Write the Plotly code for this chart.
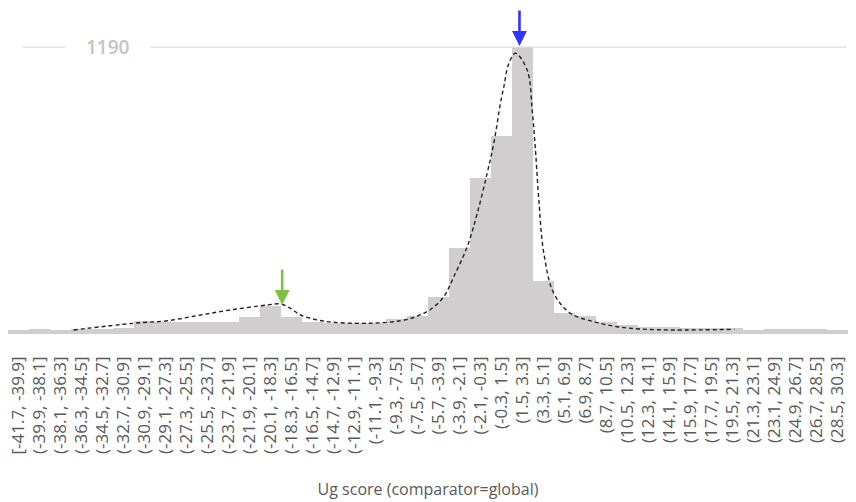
import plotly.graph_objects as go

# ---- data ----
bin_labels = [
    "[-41.7, -39.9]", "(-39.9, -38.1]", "(-38.1, -36.3]", "(-36.3, -34.5]", "(-34.5, -32.7]",
    "(-32.7, -30.9]", "(-30.9, -29.1]", "(-29.1, -27.3]", "(-27.3, -25.5]", "(-25.5, -23.7]",
    "(-23.7, -21.9]", "(-21.9, -20.1]", "(-20.1, -18.3]", "(-18.3, -16.5]", "(-16.5, -14.7]",
    "(-14.7, -12.9]", "(-12.9, -11.1]", "(-11.1, -9.3]", "(-9.3, -7.5]", "(-7.5, -5.7]",
    "(-5.7, -3.9]", "(-3.9, -2.1]", "(-2.1, -0.3]", "(-0.3, 1.5]", "(1.5, 3.3]",
    "(3.3, 5.1]", "(5.1, 6.9]", "(6.9, 8.7]", "(8.7, 10.5]", "(10.5, 12.3]",
    "(12.3, 14.1]", "(14.1, 15.9]", "(15.9, 17.7]", "(17.7, 19.5]", "(19.5, 21.3]",
    "(21.3, 23.1]", "(23.1, 24.9]", "(24.9, 26.7]", "(26.7, 28.5]", "(28.5, 30.3]",
]
bin_start = -41.7
bin_width = 1.8
bin_centers = [round(bin_start + bin_width * (i + 0.5), 2) for i in range(len(bin_labels))]

counts = [
    15, 21, 15, 20, 21, 23, 52, 48, 48, 48,
    48, 70, 116, 70, 48, 46, 46, 46, 62, 75,
    155, 357, 647, 820, 1190, 218, 89, 73, 48, 37,
    31, 27, 25, 25, 25, 15, 19, 19, 19, 15,
]

# fitted density curve (score, count)
curve_x = [-36.09, -30.94, -28.03, -25.2, -22.37, -19.46, -18.34, -17.49, -16.63, -15.17,
           -13.8, -10.89, -8.06, -6.6, -5.49, -4.35, -3.49, -2.34, -1.48, -0.63,
           -0.06, 0.51, 0.8, 1.23, 1.8, 2.8, 3.23, 3.51, 3.8, 4.23,
           5.08, 6.51, 8.51, 10.52, 12.51, 15.37, 20.57]
curve_y = [16.6, 44.4, 55, 78.8, 101.6, 120.2, 124.4, 106.5, 78.8, 58,
           48.5, 44.4, 55, 74.6, 101.6, 154.6, 237.6, 362, 500.4, 666.3,
           790.6, 956.5, 1025, 1122, 1164, 1094.5, 928.7, 762.9, 555.6, 334.6,
           168.7, 85.8, 51, 30.3, 20.7, 16.6, 19.5]

ref_value = 1190
peak_minor = (-18.2, 120)
peak_major = (2.14, 1194)

fig = go.Figure()
fig.add_trace(go.Bar(
    x=bin_centers, y=counts, width=bin_width,
    marker=dict(color="#d0cece", line=dict(width=0)),
    hoverinfo="skip",
))
fig.add_trace(go.Scatter(
    x=curve_x, y=curve_y, mode="lines",
    line=dict(color="#222222", width=1.4, dash="4px,3px", shape="spline"),
    hoverinfo="skip",
))

# reference line with a gap for the label
fig.add_shape(type="line", xref="paper", yref="y", x0=0.017, x1=0.0685, y0=ref_value, y1=ref_value,
              line=dict(color="#dddddd", width=1.3))
fig.add_shape(type="line", xref="paper", yref="y", x0=0.1696, x1=0.998, y0=ref_value, y1=ref_value,
              line=dict(color="#dddddd", width=1.3))
fig.add_annotation(xref="paper", yref="y", x=0.1185, y=ref_value, xanchor="center", yanchor="middle",
                   text=str(ref_value), showarrow=False,
                   font=dict(family="Open Sans", size=19, color="#c4c4c4", weight=600))

# arrows
fig.add_annotation(x=peak_minor[0], y=peak_minor[1], ax=0, ay=-37, text="", showarrow=True,
                   arrowhead=2, arrowwidth=2.6, arrowsize=1.15, arrowcolor="#7cc242")
fig.add_annotation(x=peak_major[0], y=peak_major[1], ax=0, ay=-37, text="", showarrow=True,
                   arrowhead=2, arrowwidth=2.6, arrowsize=1.15, arrowcolor="#3333ff")

fig.update_layout(
    width=856, height=502,
    margin=dict(l=8, r=8, t=0, b=168),
    paper_bgcolor="white", plot_bgcolor="white",
    showlegend=False, bargap=0,
    xaxis=dict(
        range=[-41.7, 30.3],
        tickvals=bin_centers, ticktext=bin_labels, tickangle=-90,
        tickfont=dict(family="Open Sans", size=17, color="#595959"),
        showgrid=False, zeroline=False, showline=False, ticks="",
        ticklabelstandoff=18,
        automargin=False,
        title=dict(text="Ug score (comparator=global)",
                   font=dict(family="Open Sans", size=16, color="#595959"), standoff=30),
    ),
    yaxis=dict(range=[0, 1385], visible=False, showgrid=False, zeroline=False),
)

fig.write_html("out.html", config={"displayModeBar": False},
               post_script="document.body.style.margin='0';document.body.style.padding='0';")
